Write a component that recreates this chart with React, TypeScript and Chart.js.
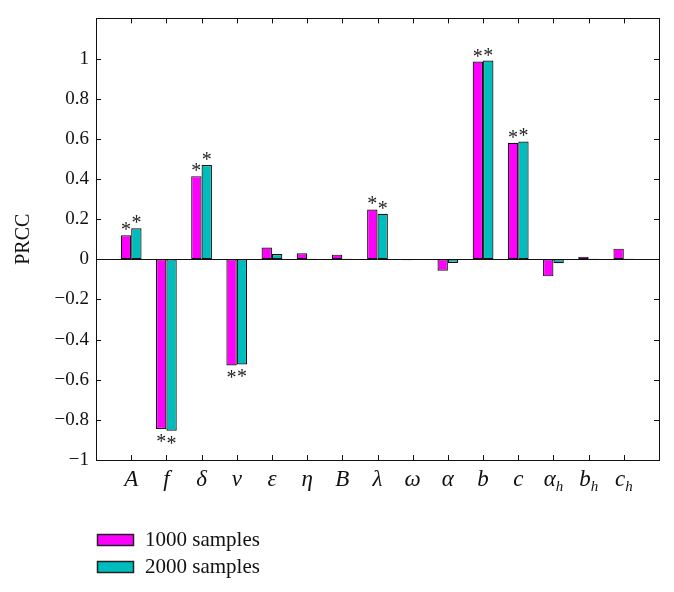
import { useEffect, useRef } from 'react';
import { Chart, registerables } from 'chart.js';

Chart.register(...registerables);

// Parameters (underscore marks a subscript)
const categories = ['A', 'f', 'δ', 'ν', 'ε', 'η', 'B', 'λ', 'ω', 'α', 'b', 'c', 'α_h', 'b_h', 'c_h'];
// PRCC values
const samples1000 = [0.12, -0.845, 0.414, -0.529, 0.059, 0.03, 0.023, 0.248, -0.005, -0.057, 0.985, 0.58, -0.085, 0.013, 0.053];
const samples2000 = [0.154, -0.854, 0.47, -0.524, 0.026, 0.003, 0.002, 0.227, -0.002, -0.018, 0.99, 0.587, -0.02, 0.003, 0.002];
// significance markers (*)
const significant = [true, true, true, true, false, false, false, true, false, false, true, true, false, false, false];
const seriesLabels = ['1000 samples', '2000 samples'];
const seriesColors = ['#ff00ff', '#00bdbd'];
const yMin = -1;
const yMax = 1.2;
const yStep = 0.2;

const SERIF = '"Liberation Serif", "Times New Roman", serif';
const INK = '#111';

const decorPlugin = {
  id: 'decor',
  afterDatasetsDraw(chart: any) {
    const { ctx, chartArea } = chart;
    const { left, right, top, bottom } = chartArea;
    const xs = chart.scales.x;
    const ys = chart.scales.y;
    ctx.save();
    ctx.strokeStyle = INK;
    ctx.lineWidth = 1;
    const r = (v: number) => Math.round(v) + 0.5;

    // zero line
    const y0 = r(ys.getPixelForValue(0));
    ctx.beginPath();
    ctx.moveTo(left, y0);
    ctx.lineTo(right, y0);
    ctx.stroke();

    // frame
    ctx.strokeRect(r(left), r(top), Math.round(right - left), Math.round(bottom - top));

    // inward ticks on y (both sides)
    const tl = 5;
    ctx.beginPath();
    ys.ticks.forEach((t: any) => {
      const py = r(ys.getPixelForValue(t.value));
      ctx.moveTo(left, py);
      ctx.lineTo(left + tl, py);
      ctx.moveTo(right, py);
      ctx.lineTo(right - tl, py);
    });
    // inward ticks on x (top and bottom)
    for (let i = 1; i <= categories.length; i++) {
      const px = r(xs.getPixelForValue(i));
      ctx.moveTo(px, bottom);
      ctx.lineTo(px, bottom - tl);
      ctx.moveTo(px, top);
      ctx.lineTo(px, top + tl);
    }
    ctx.stroke();

    // asterisks
    ctx.fillStyle = '#222';
    ctx.font = `20px ${SERIF}`;
    ctx.textAlign = 'center';
    ctx.textBaseline = 'alphabetic';
    const m = ctx.measureText('*');
    const glyphMid = (m.actualBoundingBoxAscent - m.actualBoundingBoxDescent) / 2;
    chart.data.datasets.forEach((ds: any, di: number) => {
      const meta = chart.getDatasetMeta(di);
      meta.data.forEach((el: any, idx: number) => {
        const ci = idx - 1;
        if (ci < 0 || ci >= categories.length || !significant[ci]) return;
        const v = ds.data[idx];
        if (v == null) return;
        const cy = v >= 0 ? el.y - 9 : el.y + 9;
        ctx.fillText('*', el.x, cy + glyphMid);
      });
    });

    // x category labels with subscripts
    ctx.fillStyle = INK;
    ctx.textAlign = 'left';
    ctx.textBaseline = 'alphabetic';
    const mainFont = `italic 23px ${SERIF}`;
    const subFont = `italic 15px ${SERIF}`;
    categories.forEach((lab, ci) => {
      const [main, sub] = lab.split('_');
      const px = xs.getPixelForValue(ci + 1);
      ctx.font = mainFont;
      const wm = ctx.measureText(main).width;
      ctx.font = subFont;
      const wsub = sub ? ctx.measureText(sub).width : 0;
      const x0 = px - (wm + wsub) / 2;
      const by = bottom + 26;
      ctx.font = mainFont;
      ctx.fillText(main, x0, by);
      if (sub) {
        ctx.font = subFont;
        ctx.fillText(sub, x0 + wm, by + 5);
      }
    });

    // legend
    ctx.font = `21px ${SERIF}`;
    ctx.textBaseline = 'middle';
    chart.data.datasets.forEach((ds: any, di: number) => {
      const bx = Math.round(left) + 1;
      const by = Math.round(bottom) + 74 + di * 27;
      ctx.fillStyle = ds.backgroundColor;
      ctx.fillRect(bx, by, 36, 11);
      ctx.lineWidth = 1.5;
      ctx.strokeStyle = '#222';
      ctx.strokeRect(bx + 0.5, by + 0.5, 36, 11);
      ctx.fillStyle = INK;
      ctx.fillText(ds.label, bx + 48, by + 6.5);
    });
    ctx.restore();
  },
};

export default function App() {
  const ref = useRef<HTMLCanvasElement | null>(null);
  useEffect(() => {
    if (!ref.current) return;
    const labels = ['', ...categories, ''];
    const pad = (arr: number[]) => [null, ...arr, null];
    const chart = new Chart(ref.current, {
      type: 'bar',
      data: {
        labels,
        datasets: [
          {
            label: seriesLabels[0],
            data: pad(samples1000) as any,
            backgroundColor: seriesColors[0],
            borderColor: '#111',
            borderWidth: 1.2,
            borderSkipped: false,
          },
          {
            label: seriesLabels[1],
            data: pad(samples2000) as any,
            backgroundColor: seriesColors[1],
            borderColor: '#111',
            borderWidth: 1.2,
            borderSkipped: false,
          },
        ],
      },
      options: {
        responsive: true,
        maintainAspectRatio: false,
        animation: false,
        events: [],
        layout: { padding: { left: 0, right: 15, top: 14, bottom: 92 } },
        datasets: {
          bar: { categoryPercentage: 0.59, barPercentage: 1 },
        },
        plugins: {
          legend: { display: false },
          tooltip: { enabled: false },
        },
        scales: {
          x: {
            type: 'category',
            offset: false,
            grid: { display: false, drawTicks: false },
            border: { display: false },
            ticks: { display: false },
            afterFit: (s: any) => {
              s.height = 40;
            },
          },
          y: {
            min: yMin,
            max: yMax,
            grid: { display: false, drawTicks: false },
            border: { display: false },
            ticks: {
              stepSize: yStep,
              padding: 7,
              color: INK,
              font: { family: SERIF, size: 19 },
              callback: (v: any) => {
                const n = Math.round(Number(v) * 10) / 10;
                if (n > 1.05) return '';
                if (n === 0) return '0';
                return n < 0 ? '\u2212' + String(Math.abs(n)) : String(n);
              },
            },
            title: {
              display: true,
              text: 'PRCC',
              color: INK,
              font: { family: SERIF, size: 20 },
              padding: { top: 12, bottom: 0 },
            },
            afterFit: (s: any) => {
              s.width = 96;
            },
          },
        },
      },
      plugins: [decorPlugin],
    });
    return () => chart.destroy();
  }, []);
  return (
    <div style={{ position: 'absolute', left: 0, top: 0, width: 674, height: 592, background: '#fff' }}>
      <canvas ref={ref} />
    </div>
  );
}
